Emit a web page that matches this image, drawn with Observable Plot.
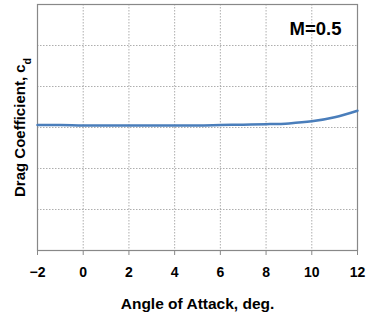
<!DOCTYPE html>
<html><head><meta charset="utf-8">
<script src="https://cdn.jsdelivr.net/npm/d3@7"></script>
<script src="https://cdn.jsdelivr.net/npm/@observablehq/plot@0.6"></script>
<style>body{margin:0;background:#fff;font-family:"Liberation Sans",Arial,sans-serif}</style>
</head><body><div id="chart"></div>
<script>
const angles = [-2, -1, 0, 1, 2, 3, 4, 5, 6, 7, 8, 9, 10, 11, 12];
const cd = [0.0306, 0.0306, 0.0305, 0.0305, 0.0305, 0.0305, 0.0305, 0.0305, 0.0306, 0.0307, 0.0308, 0.0310, 0.0315, 0.0325, 0.0341];
const xTicks = [-2, 0, 2, 4, 6, 8, 10, 12];
const yTicks = [0, 0.01, 0.02, 0.03, 0.04, 0.05, 0.06];
const mach = "M=0.5";
const data = angles.map((a, i) => ({a, cd: cd[i]}));

const chart = Plot.plot({
  width: 369, height: 322,
  marginLeft: 37, marginRight: 12, marginTop: 4, marginBottom: 72,
  style: {fontFamily: "'Liberation Sans', Arial, sans-serif", background: "#fff"},
  x: {domain: [-2, 12]},
  y: {domain: [0, 0.06]},
  marks: [
    Plot.gridX(xTicks, {stroke: "#999", strokeOpacity: 1, strokeDasharray: "1.5,1.5", strokeWidth: 0.8}),
    Plot.gridY(yTicks, {stroke: "#999", strokeOpacity: 1, strokeDasharray: "1.5,1.5", strokeWidth: 0.8}),
    Plot.frame({stroke: "#888", strokeWidth: 1.2}),
    Plot.axisX(xTicks, {tickSize: 5, tickPadding: 12, fontSize: 14, fontWeight: "bold", fill: "#000", stroke: "#888",
      tickFormat: d => d < 0 ? "\u2212" + Math.abs(d) : String(d),
      label: "Angle of Attack, deg.", labelAnchor: "center", labelArrow: "none", labelOffset: 58}),
    Plot.axisY([], {label: null}),
    Plot.line(data, {x: "a", y: "cd", stroke: "#4a7ebb", strokeWidth: 2.5, curve: "monotone-x"}),
    Plot.text([mach], {frameAnchor: "top-right", dx: -16, dy: 17, fontSize: 18.5, fontWeight: "bold", fill: "#000"}),
    Plot.text(["Drag Coefficient, c_d"], {frameAnchor: "left", textAnchor: "middle", dx: -17, dy: 0, rotate: -90, fontSize: 15, fontWeight: "bold", fill: "#000"})
  ]
});
document.getElementById("chart").appendChild(chart);
const svg = d3.select(chart);
svg.selectAll("g[aria-label='x-axis label'] text").attr("font-size", 15.5).attr("font-weight", "bold").attr("fill", "#000");
svg.selectAll("text").each(function() {
  const t = d3.select(this);
  if (t.text() === "Drag Coefficient, c_d") {
    t.text("Drag Coefficient, c");
    t.append("tspan").attr("baseline-shift", "sub").attr("font-size", 10.5).text("d");
  }
});
</script></body></html>
